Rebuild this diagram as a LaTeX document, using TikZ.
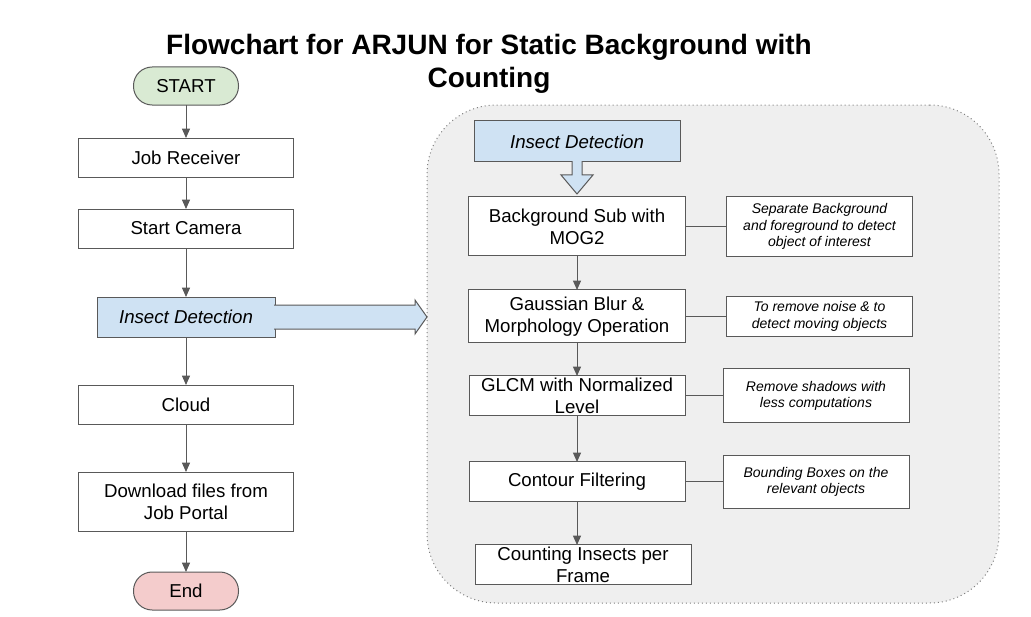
\documentclass[tikz,border=0pt]{standalone}
\usepackage{fontspec}
\setmainfont{Liberation Sans}
\usetikzlibrary{positioning, arrows.meta}

\definecolor{edgegray}{HTML}{595959}
\definecolor{startgreen}{HTML}{D9EAD3}
\definecolor{endred}{HTML}{F4CCCC}
\definecolor{calloutblue}{HTML}{CFE2F3}
\definecolor{groupgray}{HTML}{EFEFEF}

\tikzset{
  proc/.style = {draw=edgegray, line width=0.75pt, fill=white, inner sep=0pt, outer sep=0pt,
    minimum width=161.25pt, minimum height=29.25pt, align=center,
    font=\fontsize{14}{16.5}\selectfont},
  term/.style = {proc, rounded corners=14pt, minimum width=78.75pt, minimum height=28.5pt},
  callout/.style = {proc, fill=calloutblue, font=\fontsize{14}{16.5}\selectfont\itshape},
  calloutarrow/.style = {draw=edgegray, line width=0.75pt, fill=calloutblue, line join=miter},
  note/.style = {draw=edgegray, line width=0.75pt, fill=white, inner sep=0pt, outer sep=0pt,
    minimum width=139.5pt, align=center, font=\fontsize{10.5}{12.5}\selectfont\itshape},
  group/.style = {draw=gray, fill=groupgray, line width=0.75pt,
    dash pattern=on 0.75pt off 2.25pt, rounded corners=52pt},
  flow/.style = {draw=edgegray, line width=0.75pt, -{Triangle[length=7pt, width=6pt]}},
  link/.style = {draw=edgegray, line width=0.75pt},
}

\begin{document}
\begin{tikzpicture}
        \useasboundingbox (0,0) rectangle (773.25pt,-462.75pt); %
        %
        \node[font=\fontsize{21}{24.75}\selectfont\bfseries, align=center] (title) at (366.75pt,-48pt)
          {Flowchart for ARJUN for Static Background with\\Counting} ; %
        \node[group, minimum width=429pt, minimum height=373.5pt] (stage) at (534.75pt,-265.5pt) {} ; %
        %
        \node[term, fill=startgreen] (start) at (139.5pt,-64.5pt) {START} ; %
        \node[proc, below = 24.75pt of start] (jobrecv) {Job Receiver} ; %
        \node[proc, below = 24pt of jobrecv] (camera) {Start Camera} ; %
        \node[callout, minimum width=133.5pt, minimum height=30pt, below = 36.75pt of camera] (insect) {Insect Detection} ; %
        \node[proc, below = 36pt of insect] (cloud) {Cloud} ; %
        \node[proc, minimum height=44.25pt, below = 36pt of cloud] (download) {Download files from\\Job Portal} ; %
        \node[term, fill=endred, below = 30.75pt of download] (finish) {End} ; %
        %
        \node[callout, minimum width=154.5pt, minimum height=30.75pt] (detect) at (432.75pt,-106.1pt) {Insect Detection} ; %
        \node[proc, minimum width=162.75pt, minimum height=44.25pt, below = 26.25pt of detect] (bgsub) {Background Sub with\\MOG2} ; %
        \node[proc, minimum width=162.75pt, minimum height=39.75pt, below = 25.5pt of bgsub] (blur) {Gaussian Blur \&\\Morphology Operation} ; %
        \node[proc, minimum width=162pt, minimum height=30pt, below = 24.75pt of blur] (glcm) {GLCM with Normalized\\Level} ; %
        \node[proc, minimum width=162pt, minimum height=30pt, below = 34.5pt of glcm] (contour) {Contour Filtering} ; %
        \node[proc, minimum width=162pt, minimum height=30pt, below = 32.25pt of contour, xshift=4.5pt] (count) {Counting Insects per\\Frame} ; %
        %
        \node[note, minimum height=45pt, right = 30.75pt of bgsub] (note_bg) {Separate Background\\and foreground to detect\\object of interest} ; %
        \node[note, minimum height=30pt, right = 30.75pt of blur] (note_blur) {To remove noise \& to\\detect moving objects} ; %
        \node[note, minimum height=40.5pt, right = 28.5pt of glcm] (note_glcm) {Remove shadows with\\less computations} ; %
        \node[note, minimum height=39.75pt, right = 28.5pt of contour] (note_contour) {Bounding Boxes on the\\relevant objects} ; %
        %
        \draw[calloutarrow] ([xshift=-0.6pt, yshift=9pt]insect.east) -- ++(105.6pt,0) -- ++(0,3.75pt)
          -- ++(9pt,-12.75pt) -- ++(-9pt,-12.75pt) -- ++(0,3.75pt) -- ++(-105.6pt,0) ; %
        \draw[calloutarrow] ([xshift=-3.75pt, yshift=0.6pt]detect.south) -- ++(0,-10.35pt) -- ++(-8.25pt,0)
          -- ++(12pt,-14.25pt) -- ++(12pt,14.25pt) -- ++(-8.25pt,0) -- ++(0,10.35pt) ; %
        %
        \draw[flow] (start) -- (jobrecv) ; %
        \draw[flow] (jobrecv) -- (camera) ; %
        \draw[flow] (camera) -- (insect) ; %
        \draw[flow] (insect) -- (cloud) ; %
        \draw[flow] (cloud) -- (download) ; %
        \draw[flow] (download) -- (finish) ; %
        \draw[flow] (bgsub) -- (blur) ; %
        \draw[flow] (blur) -- (glcm) ; %
        \draw[flow] (glcm) -- (contour) ; %
        \draw[flow] (contour) -- (contour.south |- count.north) ; %
        %
        \draw[link] (bgsub) -- (note_bg) ; %
        \draw[link] (blur) -- (note_blur) ; %
        \draw[link] (glcm) -- (note_glcm) ; %
        \draw[link] (contour) -- (note_contour) ; %
\end{tikzpicture}
\end{document}
